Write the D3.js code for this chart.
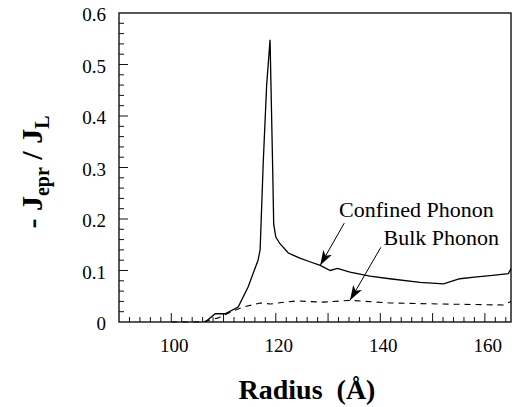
<!DOCTYPE html>
<html>
<head>
<meta charset="utf-8">
<script src="https://cdn.jsdelivr.net/npm/d3@7"></script>
<style>
  body { margin: 0; background: #fff; }
</style>
</head>
<body>
<div id="chart-area"></div>
<script>
// 1. Data
var confined_r = [106.5, 108.4, 110.3, 112.8, 114.7, 116.6, 117.0, 117.6, 118.25, 118.9, 119.4, 119.6, 120.0, 120.8, 122.4, 123.3, 124.6, 126.5, 128.5, 130.4, 131.8, 134.2, 138.0, 141.8, 147.6, 152.1, 155.2, 158.0, 161.0, 164.5, 165.0];
var confined_v = [0, 0.016, 0.016, 0.029, 0.068, 0.12, 0.14, 0.31, 0.46, 0.548, 0.30, 0.19, 0.165, 0.152, 0.134, 0.130, 0.124, 0.117, 0.110, 0.100, 0.104, 0.097, 0.089, 0.084, 0.077, 0.074, 0.084, 0.087, 0.090, 0.094, 0.104];

var bulk_r = [100, 106, 109, 112, 113.8, 117, 119, 122.1, 124, 129, 134.2, 141.8, 151.4, 163.5, 165];
var bulk_v = [0, 0, 0.008, 0.022, 0.029, 0.037, 0.035, 0.039, 0.041, 0.0385, 0.042, 0.037, 0.035, 0.033, 0.040];

var x_labels = [100, 120, 140, 160];
var y_labels = [0, 0.1, 0.2, 0.3, 0.4, 0.5, 0.6];

// annotations: text anchor, arrow start, arrow tip (data units)
var notes = ["Confined Phonon", "Bulk Phonon"];
var note_pos = [[132.1, 0.204], [140.6, 0.149]];
var arrow_from = [[133.1, 0.192], [140.1, 0.145]];
var arrow_to = [[128.5, 0.110], [134.2, 0.042]];

var serif = "'Liberation Serif', 'Times New Roman', Times, serif";

// 2. Canvas
var margin = { top: 13, left: 119, right: 4, bottom: 85 };
var svg_width = 515, svg_height = 407;
var width = svg_width - margin.left - margin.right;
var height = svg_height - margin.top - margin.bottom;

var svg = d3.select("#chart-area").append("svg")
    .attr("width", svg_width)
    .attr("height", svg_height)
    .style("font-family", serif)
    .attr("font-family", serif);

svg.append("defs").append("marker")
    .attr("id", "arrowhead")
    .attr("viewBox", "0 0 15 10")
    .attr("refX", 15).attr("refY", 5)
    .attr("markerWidth", 15).attr("markerHeight", 10)
    .attr("markerUnits", "userSpaceOnUse")
    .attr("orient", "auto")
    .append("path")
    .attr("d", "M0,0 L15,5 L0,10 L4,5 z")
    .attr("fill", "#000");

var g = svg.append("g")
    .attr("transform", "translate(" + margin.left + "," + margin.top + ")");

// 3. Scales
var x = d3.scaleLinear().domain([90, 165]).range([0, width]);
var y = d3.scaleLinear().domain([0, 0.6]).range([height, 0]);

// 4. Frame + axes (ticks point inwards)
g.append("rect")
    .attr("width", width).attr("height", height)
    .attr("fill", "none").attr("stroke", "#111").attr("stroke-width", 1.4);

var x_minor = d3.range(92, 165, 2);
g.selectAll(".xtick").data(x_minor).enter().append("line")
    .attr("x1", function (d) { return x(d); })
    .attr("x2", function (d) { return x(d); })
    .attr("y1", height)
    .attr("y2", function (d) { return d % 10 === 0 ? height - 9 : height - 5; })
    .attr("stroke", "#111").attr("stroke-width", 1);

var y_minor = d3.range(1, 30).map(function (i) { return i * 0.02; });
g.selectAll(".ytick").data(y_minor).enter().append("line")
    .attr("x1", 0)
    .attr("x2", function (d, i) { return (i + 1) % 5 === 0 ? 9 : 5; })
    .attr("y1", function (d) { return y(d); })
    .attr("y2", function (d) { return y(d); })
    .attr("stroke", "#111").attr("stroke-width", 1);

g.selectAll(".xlab").data(x_labels).enter().append("text")
    .attr("x", function (d) { return x(d) + 3; })
    .attr("y", height + 30)
    .attr("text-anchor", "middle")
    .attr("font-family", serif)
    .attr("font-size", "19px")
    .text(function (d) { return d; });

g.selectAll(".ylab").data(y_labels).enter().append("text")
    .attr("x", -13)
    .attr("y", function (d) { return y(d) + 8; })
    .attr("text-anchor", "end")
    .attr("font-family", serif)
    .attr("font-size", "19px")
    .text(function (d) { return d === 0 ? "0" : d3.format(".1f")(d); });

// 5. Axis titles
g.append("text")
    .attr("x", width / 2 - 8)
    .attr("y", height + 77)
    .attr("text-anchor", "middle")
    .attr("font-family", serif)
    .attr("font-size", "28px")
    .attr("font-weight", "bold")
    .style("white-space", "pre")
    .text("Radius  (Å)");

var ylab = svg.append("text")
    .attr("transform", "translate(42,172) rotate(-90)")
    .attr("text-anchor", "middle")
    .attr("font-family", serif)
    .attr("font-size", "30px")
    .attr("font-weight", "bold");
ylab.append("tspan").text("- J");
ylab.append("tspan").attr("font-size", "20px").attr("dy", 7).text("epr");
ylab.append("tspan").attr("dy", -7).text(" / J");
ylab.append("tspan").attr("font-size", "20px").attr("dy", 7).text("L");

// 6. Curves
var line = d3.line()
    .x(function (d) { return x(d[0]); })
    .y(function (d) { return y(d[1]); });

g.append("path")
    .datum(d3.zip(bulk_r, bulk_v))
    .attr("d", line)
    .attr("fill", "none").attr("stroke", "#000")
    .attr("stroke-width", 1.1)
    .attr("stroke-dasharray", "6,5");

g.append("path")
    .datum(d3.zip(confined_r, confined_v))
    .attr("d", line)
    .attr("fill", "none").attr("stroke", "#000")
    .attr("stroke-width", 1.3);

// 7. Annotations
notes.forEach(function (t, i) {
    g.append("text")
        .attr("x", x(note_pos[i][0]))
        .attr("y", y(note_pos[i][1]))
        .attr("font-family", serif)
        .attr("font-size", "22px")
        .text(t);
    g.append("line")
        .attr("x1", x(arrow_from[i][0])).attr("y1", y(arrow_from[i][1]))
        .attr("x2", x(arrow_to[i][0])).attr("y2", y(arrow_to[i][1]))
        .attr("stroke", "#000").attr("stroke-width", 1)
        .attr("marker-end", "url(#arrowhead)");
});
</script>
</body>
</html>
